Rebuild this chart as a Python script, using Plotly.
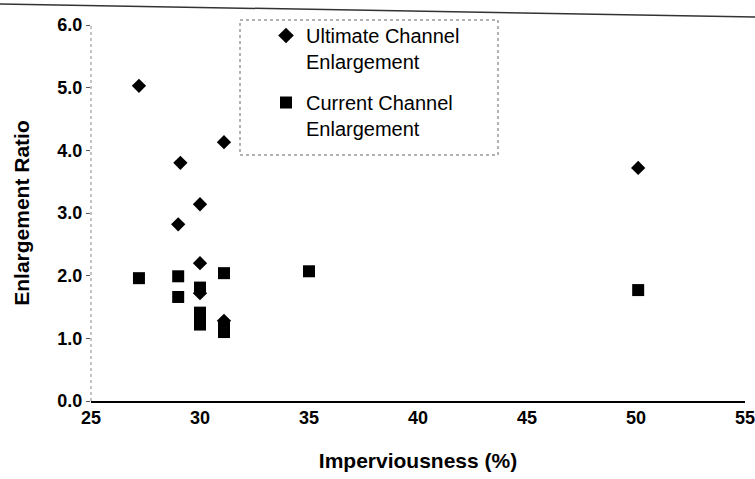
import plotly.graph_objects as go

# Ultimate channel enlargement (diamonds)
ult_x = [27.2, 29.1, 29.0, 30.0, 31.1, 30.0, 30.0, 31.1, 50.1]
ult_y = [5.03, 3.80, 2.82, 3.14, 4.13, 2.20, 1.72, 1.28, 3.72]

# Current channel enlargement (squares)
cur_x = [27.2, 29.0, 29.0, 30.0, 30.0, 30.0, 30.0, 31.1, 31.1, 31.1, 35.0, 50.1]
cur_y = [1.96, 1.99, 1.66, 1.81, 1.41, 1.30, 1.22, 2.04, 1.18, 1.10, 2.07, 1.77]

x_ticks = [25, 30, 35, 40, 45, 50, 55]
y_ticks = [0, 1, 2, 3, 4, 5, 6]
y_labels = ["0.0", "1.0", "2.0", "3.0", "4.0", "5.0", "6.0"]

FONT = "Arial, Liberation Sans, sans-serif"
W, H = 755, 479
L, R, T, B = 91, 10, 25, 78
PW, PH = W - L - R, H - T - B


def px(x):
    return (x - L) / PW


def py(y):
    return (H - B - y) / PH


fig = go.Figure()
fig.add_trace(go.Scatter(
    x=ult_x, y=ult_y, mode="markers", legendgroup="ult",
    name="Ultimate Channel<br>Enlargement",
    marker=dict(symbol="diamond", size=11, color="black", line=dict(width=0)),
))
fig.add_trace(go.Scatter(
    x=cur_x, y=cur_y, mode="markers", legendgroup="cur",
    name="Current Channel<br>Enlargement",
    marker=dict(symbol="square", size=12, color="black", line=dict(width=0)),
))

fig.update_layout(
    width=W, height=H,
    margin=dict(l=L, r=R, t=T, b=B, autoexpand=False),
    paper_bgcolor="white", plot_bgcolor="white",
    font=dict(family=FONT, color="black"),
    showlegend=True,
    legend=dict(
        x=px(266), y=py(16), xanchor="left", yanchor="top",
        borderwidth=0, bgcolor="rgba(0,0,0,0)",
        font=dict(size=20, family=FONT, color="black"),
        itemsizing="constant", tracegroupgap=12, valign="top",
    ),
    xaxis=dict(
        range=[25, 55], tickvals=x_ticks, ticktext=[str(v) for v in x_ticks],
        showgrid=False, zeroline=False, showline=True, linecolor="black", linewidth=1.5,
        ticks="", automargin=False, ticklabeloverflow="allow",
        tickfont=dict(size=18, family=FONT, weight="bold"),
        title=dict(text="Imperviousness (%)", font=dict(size=21, family=FONT, weight="bold"), standoff=26),
    ),
    yaxis=dict(
        range=[0, 6], tickvals=y_ticks, ticktext=y_labels,
        showgrid=False, zeroline=False, showline=False, automargin=False,
        ticks="outside", ticklen=4, tickcolor="#555555",
        tickfont=dict(size=18, family=FONT, weight="bold"),
        title=dict(text="Enlargement Ratio", font=dict(size=21, family=FONT, weight="bold"), standoff=22),
    ),
)

# dotted vertical axis line, as in the scan
fig.add_shape(type="line", xref="paper", yref="paper", x0=0, x1=0, y0=0, y1=1,
              line=dict(color="#888888", width=1, dash="dot"))
# legend frame
fig.add_shape(type="rect", xref="paper", yref="paper",
              x0=px(240), x1=px(498), y0=py(155), y1=py(20),
              line=dict(color="#666666", width=1, dash="dot"))
# scanned page edge along the top
fig.add_shape(type="line", xref="paper", yref="paper",
              x0=px(0), y0=py(4), x1=px(755), y1=py(17),
              line=dict(color="#333333", width=1.5))

fig.write_html("out.html", config={"displayModeBar": False},
               post_script="document.body.style.margin='0';")
